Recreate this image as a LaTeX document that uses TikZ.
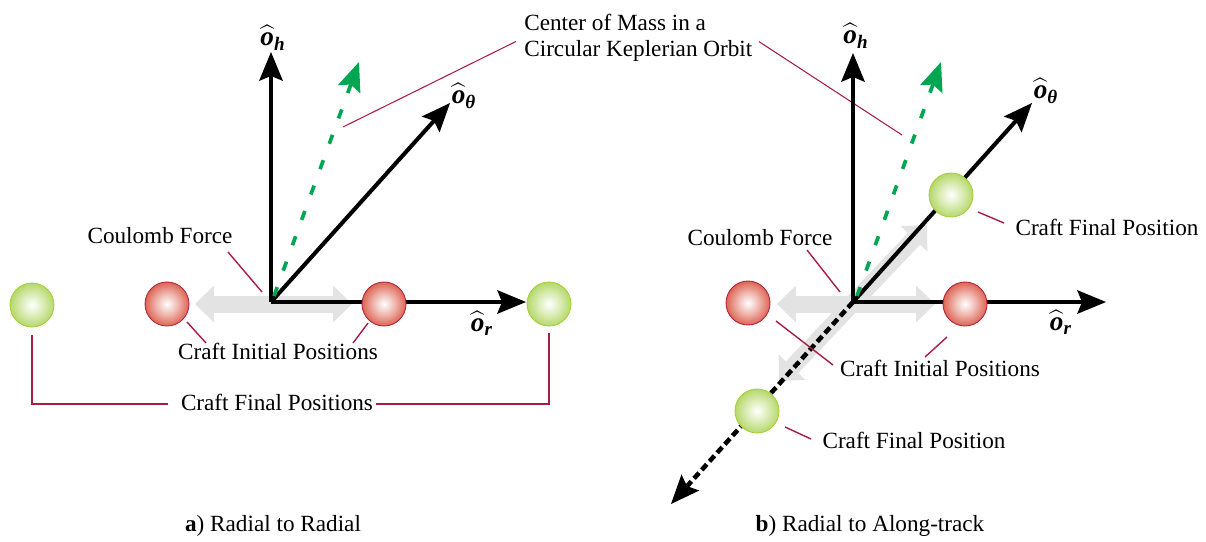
\documentclass[tikz,border=0pt]{standalone}
\usepackage{amsmath}
\usepackage{fontspec}
\setmainfont{Liberation Serif}
\usetikzlibrary{arrows.meta,calc}
\definecolor{clead}{HTML}{A81D42}
\definecolor{cgreen}{HTML}{00A651}
\definecolor{cforce}{HTML}{E3E3E3}
\definecolor{credin}{HTML}{DD6453}
\definecolor{credrim}{HTML}{B32540}
\definecolor{cgrnin}{HTML}{B5D86A}
\definecolor{cgrnrim}{HTML}{A6CE3E}
\pgfdeclareradialshading{redball}{\pgfpointorigin}{color(0bp)=(white); color(13bp)=(credin!50!white); color(25bp)=(credin); color(50bp)=(credin)}
\pgfdeclareradialshading{grnball}{\pgfpointorigin}{color(0bp)=(white); color(13bp)=(cgrnin!50!white); color(25bp)=(cgrnin); color(50bp)=(cgrnin)}
\newcommand{\ovec}[1]{$\widehat{\textbf{\textit{o}}}_{\textbf{\textit{#1}}}$}
\tikzset{
  axis/.style={line width=2.3pt, -{Stealth[length=0.58cm,width=0.48cm,inset=0.1cm,line width=0pt]}},
  cmpath/.style={axis, cgreen, line width=2.1pt, dash pattern=on 0.19cm off 0.35cm},
  track/.style={axis, line width=2.6pt, dash pattern=on 0.15cm off 0.08cm},
  force/.style={cforce, line width=0.34cm, {Triangle[length=0.38cm,width=0.74cm,line width=0pt]}-{Triangle[length=0.38cm,width=0.74cm,line width=0pt]}},
  lead/.style={clead, line width=0.8pt},
  craft/.style={circle, minimum size=0.88cm, inner sep=0pt, line width=0.5pt},
  redcraft/.style={craft, draw=credrim, shading=redball},
  grncraft/.style={craft, draw=cgrnrim, shading=grnball},
  lbl/.style={inner sep=0pt, anchor=base},
  unitlbl/.style={inner sep=0pt, font=\fontsize{15.5}{17}\selectfont},
}
\begin{document}
\begin{tikzpicture}[x=0.02cm,y=-0.02cm,font=\fontsize{13.2}{14.8}\selectfont]
\useasboundingbox (0,0) rectangle (1206,541);
% a) radial to radial
\coordinate (oa) at (271,302);
\coordinate (oa-h) at (271,52);
\coordinate (oa-t) at (450,103);
\coordinate (oa-r) at (526,302);
\coordinate (cma-s) at (274,296);
\coordinate (cma-e) at (359,62);
\coordinate (fa-l) at (195,304);
\coordinate (fa-r) at (352,304);
\draw[force] (fa-l) -- (fa-r);
\draw[axis] (oa) -- (oa-h);
\draw[axis] (oa) -- (oa-t);
\draw[axis] (oa) -- (oa-r);
\draw[cmpath] (cma-s) -- (cma-e);
\node[redcraft] (ria) at (167,304) {};
\node[redcraft] (rib) at (384,304) {};
\node[grncraft] (fga) at (32,305) {};
\node[grncraft] (fgb) at (549,304) {};
\node[unitlbl] (oha) at (273,38) {\ovec{h}};
\node[unitlbl] (ota) at (464,96) {\ovec{θ}};
\node[unitlbl] (ora) at (482,323) {\ovec{r}};
\node[lbl] (cfa) at (160,243.5) {Coulomb Force};
\node[lbl] (cia) at (278,359.5) {Craft Initial Positions};
\node[lbl] (cpa) at (277,410.5) {Craft Final Positions};
\node[lbl] (capa) at (273,531) {\textbf{a}) Radial to Radial};
\coordinate (cfa-a) at (228,252); \coordinate (cfa-b) at (262,292);
\coordinate (cia-a) at (187,322); \coordinate (cia-b) at (206,343);
\coordinate (cia-c) at (368,323); \coordinate (cia-d) at (353,343);
\coordinate (cpa-l) at (168,404); \coordinate (cpa-r) at (376,404);
\draw[lead] (cfa-a) -- (cfa-b);
\draw[lead] (cia-a) -- (cia-b);
\draw[lead] (cia-c) -- (cia-d);
\draw[lead, shorten <=0.16cm] (fga.south) |- (cpa-l);
\draw[lead, shorten <=0.14cm] (fgb.south) |- (cpa-r);
% centre of mass label, shared
\node[inner sep=0pt, anchor=north west, align=left] (com) at (524,13.5) {Center of Mass in a\\Circular Keplerian Orbit};
\coordinate (cml) at (343,127);
\coordinate (cmr) at (902,135);
\draw[lead, line width=0.6pt, shorten >=0.18cm] (cml) -- (com.west);
\draw[lead, line width=0.6pt, shorten <=0.15cm] (com.east) -- (cmr);
% b) radial to along-track
\coordinate (ob) at (853,302);
\coordinate (ob-h) at (853,53);
\coordinate (ob-t) at (1032,103);
\coordinate (ob-r) at (1106,302);
\coordinate (ob-a) at (671,504);
\coordinate (cmb-s) at (857,296);
\coordinate (cmb-e) at (941,62);
\coordinate (fb-l) at (777,304);
\coordinate (fb-r) at (935,304);
\coordinate (fb-d) at (779,381);
\coordinate (fb-u) at (927,225);
\draw[force] (fb-l) -- (fb-r);
\draw[force] (fb-d) -- (fb-u);
\draw[axis] (ob) -- (ob-h);
\draw[axis] (ob) -- (ob-t);
\draw[axis] (ob) -- (ob-r);
\draw[track] (ob) -- (ob-a);
\draw[cmpath] (cmb-s) -- (cmb-e);
\node[redcraft] (ric) at (748,303) {};
\node[redcraft] (rid) at (965,304) {};
\node[grncraft] (fgc) at (951,195) {};
\node[grncraft] (fgd) at (757,411) {};
\node[unitlbl] (ohb) at (856,36) {\ovec{h}};
\node[unitlbl] (otb) at (1046,91) {\ovec{θ}};
\node[unitlbl] (orb) at (1061,322) {\ovec{r}};
\node[lbl] (cfb) at (760,245.5) {Coulomb Force};
\node[lbl] (cib) at (940,376.5) {Craft Initial Positions};
\node[lbl] (cpc) at (1107,235.5) {Craft Final Position};
\node[lbl] (cpd) at (914,448.5) {Craft Final Position};
\node[lbl] (capb) at (870,531) {\textbf{b}) Radial to Along-track};
\coordinate (cfb-a) at (807,250); \coordinate (cfb-b) at (840,292);
\coordinate (cib-a) at (776,321); \coordinate (cib-b) at (833,365);
\coordinate (cib-c) at (947,337); \coordinate (cib-d) at (925,357);
\coordinate (cpc-a) at (978,212); \coordinate (cpc-b) at (1004,223);
\coordinate (cpd-a) at (785,427); \coordinate (cpd-b) at (811,439);
\draw[lead] (cfb-a) -- (cfb-b);
\draw[lead] (cib-a) -- (cib-b);
\draw[lead] (cib-c) -- (cib-d);
\draw[lead] (cpc-a) -- (cpc-b);
\draw[lead] (cpd-a) -- (cpd-b);
\end{tikzpicture}
\end{document}
